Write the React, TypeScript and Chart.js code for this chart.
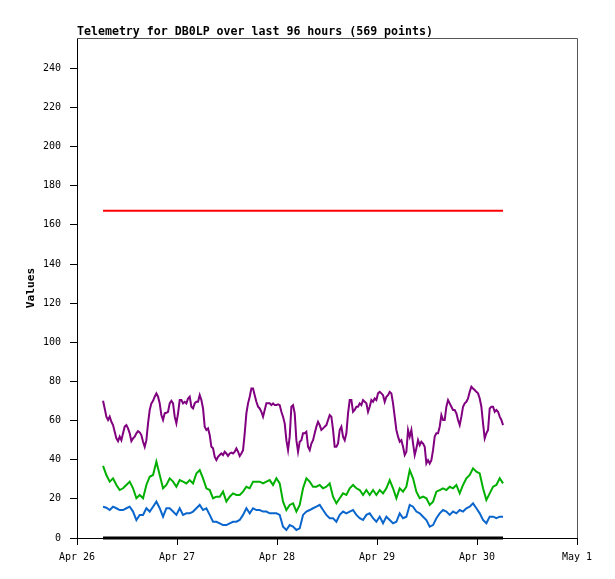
import { Chart, ChartConfiguration, Plugin, registerables } from "chart.js";
import { useEffect, useRef } from "react";

Chart.register(...registerables);

const dayLabels = ["Apr 26", "Apr 27", "Apr 28", "Apr 29", "Apr 30", "May 1"];
const yTicks = [0, 20, 40, 60, 80, 100, 120, 140, 160, 180, 200, 220, 240];

// hours since Apr 26 00:00
const startHour = 6.25;
const endHour = 102.25;
const purpleStep = 0.4;
const lowStep = 0.8;

const redValues = [167.2, 167.2];
const blackValues = [0, 0];

const purpleValues = [
  70.1, 66.2, 62.0, 60.3, 62.0, 59.4, 57.7, 54.3, 50.9, 49.5,
  51.8, 50.0, 53.5, 56.9, 57.7, 56.0, 53.5, 49.5, 50.9, 51.8,
  53.5, 54.6, 54.0, 52.6, 49.2, 46.6, 50.0, 58.6, 65.4, 68.8,
  70.1, 72.2, 73.9, 72.2, 68.8, 62.8, 60.3, 63.7, 64.0, 64.5,
  68.8, 70.1, 68.8, 62.0, 58.6, 63.7, 70.5, 70.5, 68.8, 69.6,
  68.8, 71.3, 72.2, 67.1, 66.2, 68.8, 69.6, 69.6, 73.0, 70.5,
  66.2, 56.9, 55.2, 56.0, 52.6, 46.6, 45.8, 41.5, 39.8, 41.5,
  42.4, 43.2, 42.4, 44.1, 43.2, 41.9, 43.2, 43.6, 43.2, 44.1,
  45.8, 44.1, 41.9, 43.2, 44.9, 53.5, 63.7, 68.8, 72.2, 76.4,
  76.4, 73.0, 69.6, 67.1, 66.2, 64.5, 62.0, 65.4, 68.8, 68.8,
  68.8, 67.9, 68.8, 67.9, 67.9, 68.3, 67.9, 64.5, 62.0, 58.6,
  50.0, 44.9,
  51.8, 67.1, 67.9, 63.7, 50.0, 44.1, 49.2, 50.0, 53.5, 53.5,
  54.3, 46.6, 44.9, 48.3, 50.0, 53.5, 56.9, 59.4, 57.7, 55.2,
  56.0, 56.9, 57.7, 60.3, 62.8, 62.0, 55.2, 46.6, 46.6, 48.3,
  55.2, 56.9, 51.8, 50.0, 53.5, 63.7, 70.5, 70.5, 64.5, 65.4,
  67.1, 67.1, 68.8, 67.9, 70.5, 69.6, 68.8, 64.5, 67.1, 70.5,
  69.6, 71.3, 70.5, 73.9, 74.7, 73.9, 73.0, 69.6, 72.2, 73.0,
  74.7, 73.9, 68.8, 62.0, 55.2, 51.8, 49.2, 50.0, 46.6, 42.4,
  44.1, 55.2, 51.8, 55.2, 48.3, 42.4, 45.8, 50.0, 47.5, 49.2,
  48.3, 46.6, 38.1, 39.8, 38.1, 39.8, 44.9, 51.8, 53.5, 53.5,
  56.9, 62.8, 60.3, 60.3, 67.1, 70.5, 68.8, 67.1, 65.4, 65.4,
  63.7, 60.3, 57.7, 62.0, 67.1, 68.8, 69.6, 71.3, 74.7, 77.3,
  76.4, 75.6, 74.7, 73.9, 71.3, 67.1, 58.6, 50.9, 53.5, 55.2,
  66.2, 67.1, 67.1, 64.5, 65.4, 64.5, 62.0, 60.3, 57.7
];

const greenValues = [
  36.9, 32.2, 28.8, 30.5, 27.1, 24.5, 25.4, 27.1, 28.8, 25.4,
  20.3, 22.0, 20.3, 27.1, 31.3, 32.2, 39.0, 32.2, 25.4, 27.1,
  30.5, 28.8, 26.2, 29.6, 28.8, 27.9, 29.6, 27.9, 33.0, 34.7,
  30.5, 25.4, 24.5, 20.3, 21.1, 21.1, 23.7, 18.6, 21.1, 22.8,
  22.0, 22.0, 23.7, 26.2, 25.4, 28.8, 28.8, 28.8, 27.9, 28.8,
  29.6, 27.1, 30.5, 27.9, 18.6, 14.3,
  16.9, 17.7, 13.5, 16.9, 25.4, 30.5, 28.8, 26.2, 26.2, 27.1,
  25.4, 26.2, 27.9, 21.1, 17.7, 20.3, 22.8, 22.0, 25.4, 27.1,
  25.4, 24.5, 22.0, 24.5, 22.0, 24.5, 22.0, 24.5, 22.8, 25.4,
  29.6, 25.4, 20.3, 25.4, 23.7, 26.2, 34.7, 30.5, 23.7, 20.3,
  21.1, 20.3, 16.9, 18.6, 23.7, 24.5, 25.4, 24.5, 26.2, 25.4,
  27.1, 22.8, 27.1, 30.5, 32.2, 35.6, 33.9, 33.0, 25.4, 19.4,
  22.8, 26.2, 27.1, 30.5, 27.9
];

const blueValues = [
  16.0, 15.5, 14.3, 16.0, 15.2, 14.3, 14.3, 15.2, 16.0, 13.5,
  9.2, 11.8, 11.8, 15.2, 13.5, 16.0, 18.6, 15.2, 10.9, 15.2,
  15.2, 13.5, 11.8, 15.2, 11.8, 12.6, 12.6, 13.5, 15.2, 16.9,
  14.3, 15.2, 11.8, 8.3, 8.3, 7.5, 6.6, 6.6, 7.5, 8.3,
  8.3, 9.2, 11.8, 15.2, 12.6, 15.2, 14.3, 14.3, 13.5, 13.5,
  12.6, 12.6, 12.6, 11.8, 5.8, 4.1,
  6.6, 5.8, 4.1, 4.9, 11.8, 13.5, 14.3, 15.2, 16.0, 16.9,
  14.3, 11.8, 10.1, 10.1, 8.3, 11.8, 13.5, 12.6, 13.5, 14.3,
  11.8, 10.1, 9.2, 11.8, 12.6, 10.1, 8.3, 10.9, 7.5, 10.9,
  9.2, 7.5, 8.3, 12.6, 10.1, 10.9, 16.9, 16.0, 13.5, 12.6,
  10.9, 9.2, 5.8, 6.6, 10.1, 12.6, 14.3, 13.5, 11.8, 13.5,
  12.6, 14.3, 13.5, 15.2, 16.0, 17.7, 15.2, 12.6, 9.2, 7.5,
  10.9, 10.9, 10.1, 10.9, 10.9
];

const toPoints = (values: number[], step: number) =>
  values.map((y, i) => ({ x: startHour + i * step, y }));

const flatPoints = (values: number[]) => [
  { x: startHour, y: values[0] },
  { x: endHour, y: values[1] }
];

const mono = "'DejaVu Sans Mono', monospace";

const framePlugin: Plugin = {
  id: "frame",
  afterDraw(chart) {
    const { ctx, chartArea } = chart;
    ctx.save();
    ctx.strokeStyle = "#555";
    ctx.lineWidth = 1;
    ctx.beginPath();
    ctx.moveTo(chartArea.left, chartArea.top + 0.5);
    ctx.lineTo(chartArea.right + 0.5, chartArea.top + 0.5);
    ctx.lineTo(chartArea.right + 0.5, chartArea.bottom);
    ctx.stroke();

    ctx.fillStyle = "#000";
    ctx.font = "bold 11.6px " + mono;
    ctx.textAlign = "left";
    ctx.textBaseline = "alphabetic";
    ctx.fillText("Telemetry for DB0LP over last 96 hours (569 points)", chartArea.left, 35);

    ctx.translate(31, (chartArea.top + chartArea.bottom) / 2);
    ctx.rotate(-Math.PI / 2);
    ctx.textAlign = "center";
    ctx.textBaseline = "middle";
    ctx.font = "bold 11.2px " + mono;
    ctx.fillText("Values", 0, 0);
    ctx.restore();
  }
};

function TelemetryChart() {
  const canvasRef = useRef<HTMLCanvasElement | null>(null);

  useEffect(() => {
    const canvas = canvasRef.current;
    if (!canvas) {
      return;
    }

    const line = (color: string, data: { x: number; y: number }[], width = 2) => ({
      data,
      borderColor: color,
      borderWidth: width,
      pointRadius: 0,
      tension: 0,
      fill: false,
      clip: false as const
    });

    const config: ChartConfiguration<"line"> = {
      type: "line",
      data: {
        datasets: [
          line("#ff0000", flatPoints(redValues)),
          line("#800080", toPoints(purpleValues, purpleStep)),
          line("#00b000", toPoints(greenValues, lowStep)),
          line("#0a66cc", toPoints(blueValues, lowStep)),
          line("#000000", flatPoints(blackValues), 3)
        ]
      },
      options: {
        responsive: false,
        animation: false,
        layout: { padding: { top: 38, right: 38, left: 0, bottom: 0 } },
        plugins: {
          legend: { display: false },
          tooltip: { enabled: false }
        },
        scales: {
          x: {
            type: "linear",
            min: 0,
            max: 120,
            afterFit: (scale) => {
              scale.height = 41;
            },
            afterBuildTicks: (scale) => {
              scale.ticks = dayLabels.map((_, i) => ({ value: i * 24 }));
            },
            ticks: {
              color: "#000",
              padding: 6,
              maxRotation: 0,
              font: { family: mono, size: 10 },
              callback: (value) => dayLabels[Math.round(Number(value) / 24)]
            },
            grid: {
              drawOnChartArea: false,
              drawTicks: true,
              tickLength: 7,
              color: "#000"
            },
            border: { display: true, color: "#000" }
          },
          y: {
            type: "linear",
            min: 0,
            max: 255.5,
            afterFit: (scale) => {
              scale.width = 77;
            },
            afterBuildTicks: (scale) => {
              scale.ticks = yTicks.map((value) => ({ value }));
            },
            ticks: {
              color: "#000",
              padding: 9,
              font: { family: mono, size: 10 }
            },
            grid: {
              drawOnChartArea: false,
              drawTicks: true,
              tickLength: 7,
              color: "#000"
            },
            border: { display: true, color: "#000" }
          }
        }
      },
      plugins: [framePlugin]
    };

    const chart = new Chart(canvas, config);

    return () => {
      chart.destroy();
    };
  }, []);

  return (
    <div style={{ position: "absolute", left: 0, top: 0, width: 615, height: 579, background: "#fff" }}>
      <canvas ref={canvasRef} width={615} height={579} />
    </div>
  );
}

export default function App() {
  return <TelemetryChart />;
}
